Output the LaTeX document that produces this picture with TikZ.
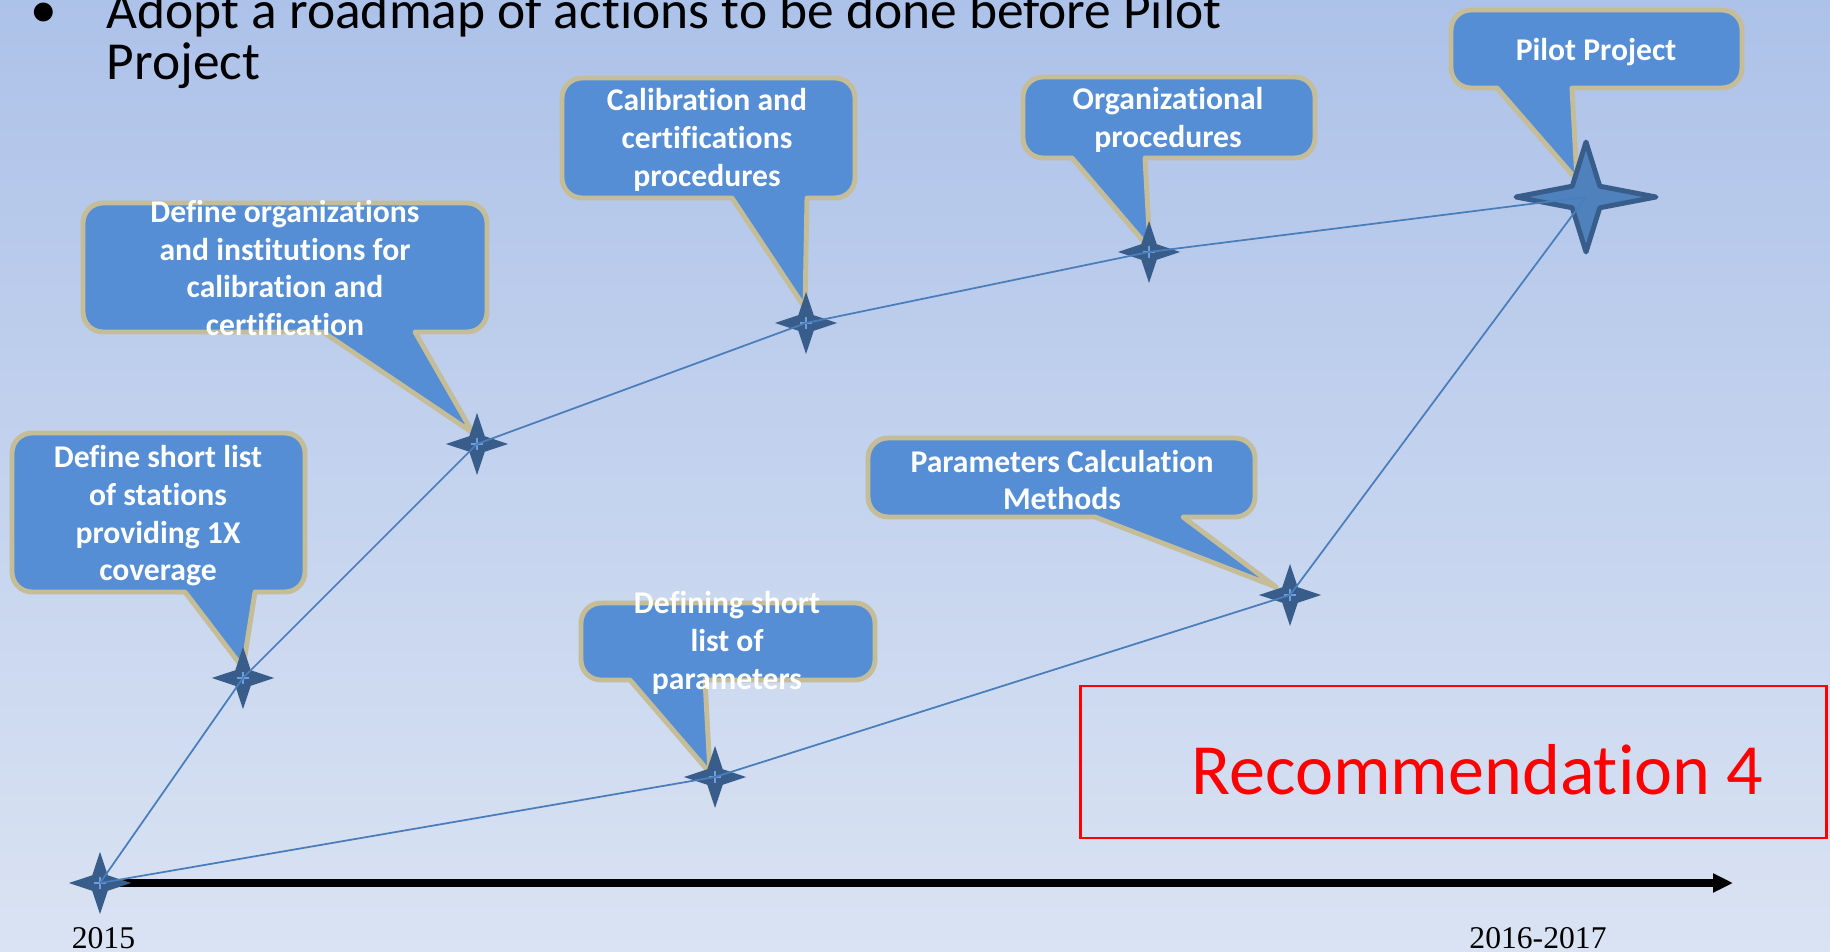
\documentclass[tikz,border=0pt]{standalone}
\usepackage{fontspec}
\setmainfont{Carlito}[Ligatures=NoCommon]
\newfontfamily\yearfont{Liberation Serif}
\usetikzlibrary{shapes.geometric,arrows.meta,calc}

\definecolor{bgtop}{RGB}{173,194,233}
\definecolor{bgbot}{RGB}{218,227,243}
\definecolor{bubblefill}{RGB}{85,142,213}
\definecolor{bubbleedge}{RGB}{196,189,151}
\definecolor{sparkblue}{RGB}{56,93,138}
\definecolor{sparklight}{RGB}{79,129,189}
\definecolor{crossblue}{RGB}{110,160,225}
\definecolor{linkblue}{RGB}{74,126,187}

\tikzset{
  bubble/.style={fill=bubblefill, draw=bubbleedge, line width=1.4pt, line join=round},
  bubbletext/.style={text=white, font=\bfseries\fontsize{9}{10.7}\selectfont, align=center, inner sep=0pt},
  spark/.style={star, star points=4, star point ratio=2.83, minimum size=0.62cm, inner sep=0pt,
    fill=sparkblue, path picture={
      \draw[crossblue, line width=0.4pt]
        ([xshift=-0.06cm]path picture bounding box.center) -- ([xshift=0.06cm]path picture bounding box.center)
        ([yshift=-0.06cm]path picture bounding box.center) -- ([yshift=0.06cm]path picture bounding box.center);}},
  bigspark/.style={star, star points=4, star point ratio=3.6, minimum size=1.25cm, inner sep=0pt,
    fill=sparklight, draw=sparkblue, line width=1.4pt, line join=round},
  link/.style={draw=linkblue, line width=0.5pt},
  timeaxis/.style={line width=2pt, -{Triangle[length=0.2cm, width=0.18cm]}},
  year/.style={font=\yearfont\fontsize{9}{10}\selectfont, inner sep=0pt, anchor=base},
}

% left, top, right, bottom, wedge base left, wedge base right, tip
\newcommand{\bubbleshape}[7]{%
  \filldraw[bubble] (#6,#4) -- (#3-20,#4) arc[start angle=90, end angle=0, radius=20]
    -- (#3,#2+20) arc[start angle=0, end angle=-90, radius=20]
    -- (#1+20,#2) arc[start angle=-90, end angle=-180, radius=20]
    -- (#1,#4-20) arc[start angle=180, end angle=90, radius=20]
    -- (#5,#4) -- #7 -- cycle;}

\begin{document}
\begin{tikzpicture}[x=0.01cm, y=-0.01cm]
  \useasboundingbox (0,0) rectangle (1830,952);
  \shade[top color=bgtop, bottom color=bgbot] (0,0) rectangle (1830,952);

  % milestones
  \coordinate (p0) at (100,883);
  \coordinate (p1) at (243,678);
  \coordinate (p2) at (477,444);
  \coordinate (p3) at (806,323);
  \coordinate (p4) at (1149,252);
  \coordinate (p5) at (1586,197);
  \coordinate (p6) at (715,777);
  \coordinate (p7) at (1290,595);
  \coordinate (tend) at (1733,883);

  \node[font=\fontsize{15.2}{14.4}\selectfont, inner sep=0pt, anchor=base] (dot) at (44,28) {•};
  \node[font=\fontsize{15.2}{14.4}\selectfont, inner sep=0pt, anchor=north west, align=left] (title) at (106,-9)
    {Adopt a roadmap of actions to be done before Pilot\\Project};

  \draw[timeaxis] (p0) -- (tend);

  % callouts
  \bubbleshape{12}{433}{305}{592}{185}{255}{($(p1)+(0,-10)$)}
  \node[bubbletext] (stations) at (158,516) {Define short list\\of stations\\providing 1X\\coverage};

  \bubbleshape{83}{203}{487}{332}{323}{415}{($(p2)+(-4,-11)$)}
  \node[bubbletext] (institutions) at (285,268) {Define organizations\\and institutions for\\calibration and\\certification};

  \bubbleshape{562}{78}{855}{198}{732}{807}{($(p3)+(-1,-15)$)}
  \node[bubbletext] (calib) at (707,140) {Calibration and\\certifications\\procedures};

  \bubbleshape{1023}{77}{1315}{158}{1072}{1145}{($(p4)+(1,-3)$)}
  \node[bubbletext] (orgproc) at (1168,120) {Organizational\\procedures};

  \bubbleshape{1451}{10}{1742}{88}{1497}{1572}{($(p5)+(-9,-17)$)}
  \node[bubbletext] (pilot) at (1596,52) {Pilot Project};

  \bubbleshape{581}{603}{875}{680}{630}{705}{($(p6)+(-5,-4)$)}
  \node[bubbletext] (shortlist) at (727,643) {Defining short\\list of\\parameters};

  \bubbleshape{868}{438}{1255}{517}{1095}{1183}{($(p7)+(-14,-8)$)}
  \node[bubbletext] (methods) at (1062,480) {Parameters Calculation\\Methods};

  \node[draw=red, line width=0.8pt, minimum width=7.45cm, minimum height=1.52cm, inner sep=0pt] (recbox) at (1453.5,762) {};
  \node[text=red, font=\fontsize{20.5}{25}\selectfont, inner sep=0pt, anchor=base] (rectext) at (1477.5,794) {Recommendation 4};

  % stars
  \foreach \i in {0,1,2,3,4,6,7}
    \node[spark] (s\i) at (p\i) {};
  \begin{scope}[shift={(p5)}, xscale=1.12, yscale=0.88]
    \node[bigspark, transform shape] (s5) at (0,0) {};
  \end{scope}

  \draw[link] (s0.center) -- (s1.center) -- (s2.center) -- (s3.center) -- (s4.center) -- (s5.center);
  \draw[link] (s0.center) -- (s6.center) -- (s7.center) -- (s5.center);

  \node[year] (ystart) at (103.5,948) {2015};
  \node[year] (yend) at (1538,948) {2016-2017};
\end{tikzpicture}
\end{document}
